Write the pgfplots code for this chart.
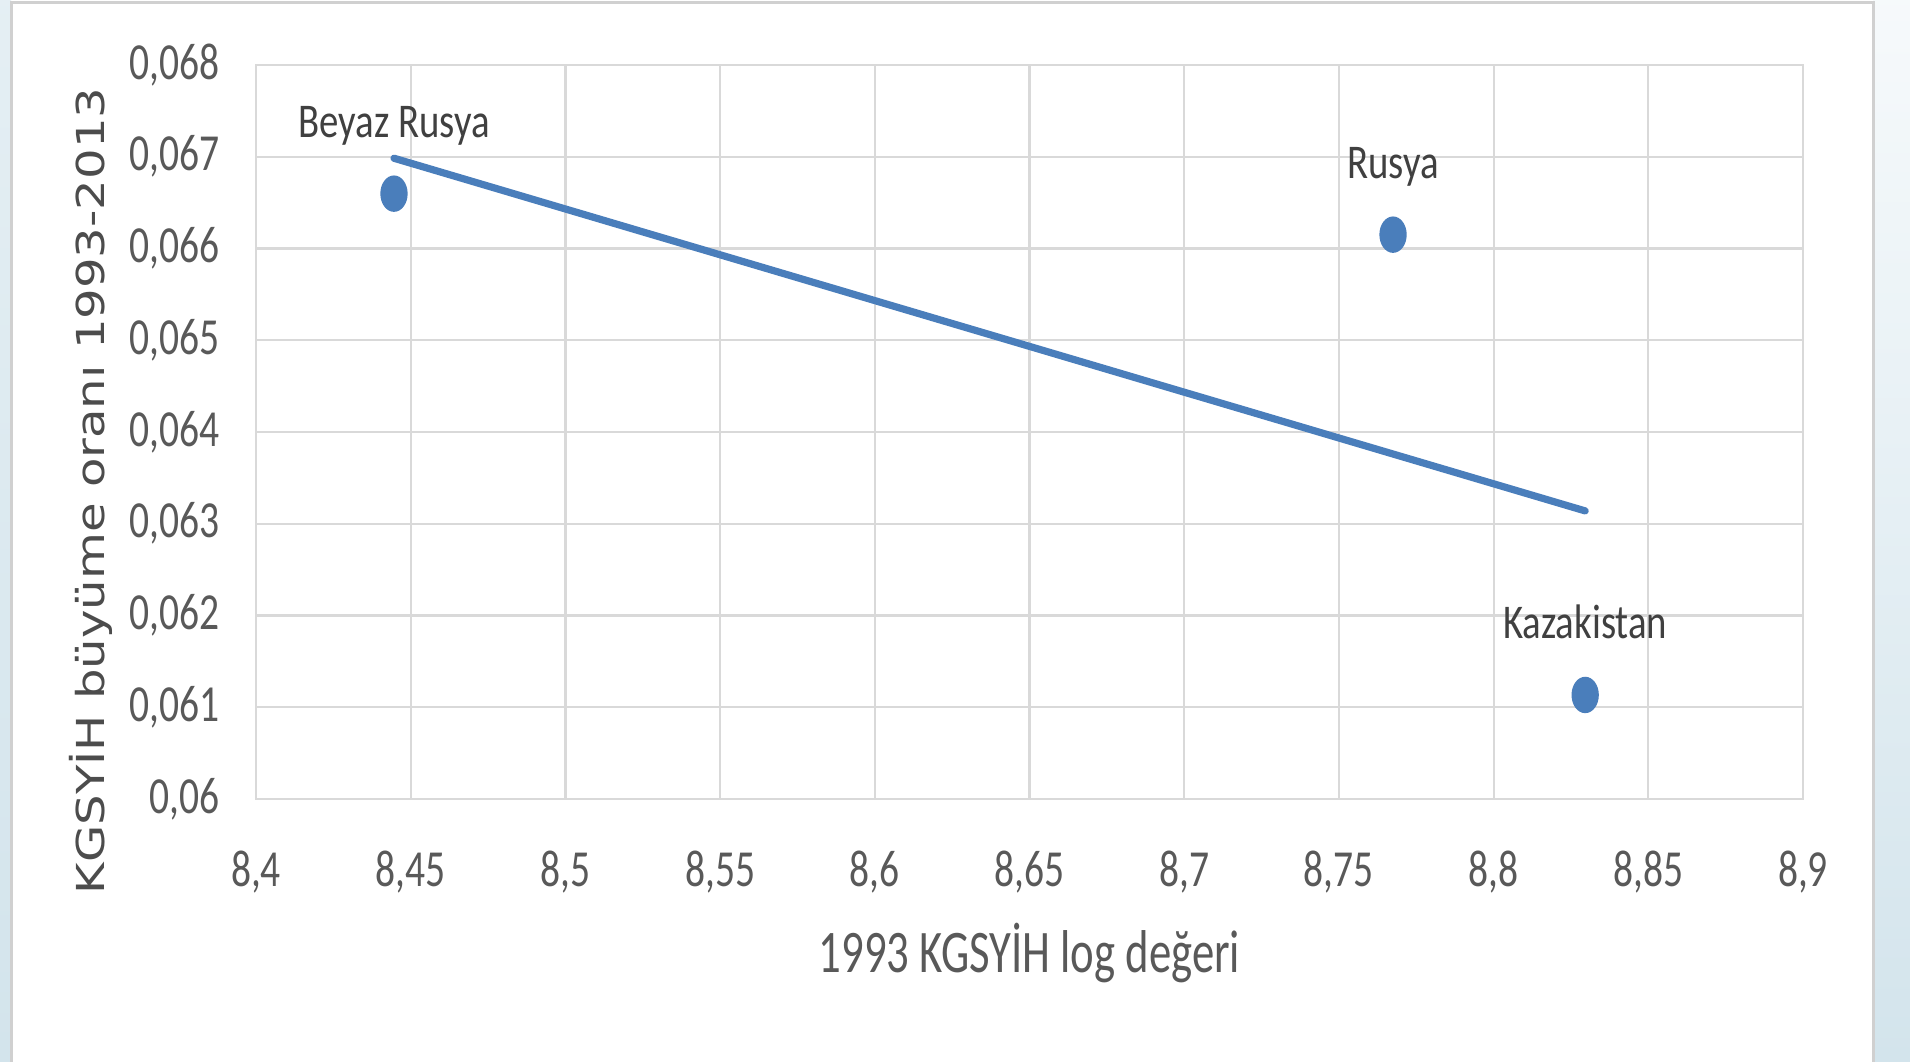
\documentclass[border=0pt]{standalone}
\usepackage{pgfplots}
\pgfplotsset{compat=1.18}
\usepackage{fontspec}
\setmainfont{Carlito}
\newfontfamily\labelfont{DejaVu Sans}
\usepackage{graphicx}
\definecolor{ptblue}{HTML}{4A7EBB}
\definecolor{tickgray}{HTML}{595959}
\definecolor{lblgray}{HTML}{404040}
\definecolor{gridgray}{HTML}{D9D9D9}
\definecolor{framegray}{HTML}{D0D0D0}
\definecolor{stripblue}{HTML}{D3E4EC}
\begin{document}
\begin{tikzpicture}
\path[use as bounding box] (0,0) rectangle (191mm,106.2mm);
\fill[white] (0,0) rectangle (191mm,106.2mm);
\shade[top color=white!40!stripblue, bottom color=stripblue] (0,0) rectangle (1.1mm,106.2mm);
\shade[top color=white!80!stripblue, bottom color=stripblue] (187.3mm,0) rectangle (191mm,106.2mm);
\draw[framegray, line width=0.3mm] (1.1mm,0) -- (1.1mm,105.9mm) -- (187.3mm,105.9mm) -- (187.3mm,0);
\begin{axis}[
  at={(25.6mm,26.3mm)}, anchor=south west,
  scale only axis, width=154.7mm, height=73.4mm,
  xmin=8.4, xmax=8.9, ymin=0.06, ymax=0.068,
  xtick={8.4,8.45,8.5,8.55,8.6,8.65,8.7,8.75,8.8,8.85,8.9},
  ytick={0.06,0.061,0.062,0.063,0.064,0.065,0.066,0.067,0.068},
  scaled x ticks=false, scaled y ticks=false,
  grid=major,
  major grid style={gridgray, line width=0.22mm},
  axis line style={gridgray, line width=0.22mm},
  tick style={draw=none},
  /pgf/number format/fixed,
  /pgf/number format/use comma,
  /pgf/number format/precision=3,
  /pgf/number format/1000 sep={},
  /pgf/number format/assume math mode=true,
  xticklabel={\scalebox{0.76}[1]{\pgfmathprintnumber{\tick}}},
  yticklabel={\scalebox{0.76}[1]{\pgfmathprintnumber{\tick}}},
  xticklabel style={font=\fontsize{14.8}{16}\selectfont, text=tickgray, anchor=north, inner sep=0pt, yshift=-5.1mm},
  yticklabel style={font=\fontsize{14.8}{16}\selectfont, text=tickgray, anchor=east, inner sep=0pt, xshift=-3.6mm},
  xlabel={\fontsize{17.2}{20}\selectfont\scalebox{0.74}[1]{1993 KGSYİH log değeri}},
  xlabel style={at={(axis description cs:0.5,-0.237)}, anchor=base, inner sep=0pt, text=tickgray},
  ylabel={\labelfont\fontsize{13.7}{16}\selectfont\scalebox{1}[0.8]{KGSYİH büyüme oranı 1993-2013}},
  ylabel style={at={(axis description cs:-0.1067,0.4196)}, anchor=center, inner sep=0pt, text=tickgray!85!black},
]
\addplot[ptblue, line width=0.72mm, line cap=round] coordinates {(8.4446,0.066984) (8.8296,0.063140)};
\addplot[only marks, mark=*, mark size=1.75mm,
  mark options={fill=ptblue, draw=ptblue, xscale=0.74},
  point meta=explicit symbolic,
  nodes near coords={\scalebox{0.8}[1]{\pgfplotspointmeta}},
  nodes near coords style={anchor=base, yshift=5.6mm, inner sep=0pt, font=\fontsize{13.8}{16}\selectfont, text=lblgray}]
  coordinates {(8.4446,0.066598)[Beyaz Rusya] (8.7675,0.066151)[Rusya] (8.8296,0.061134)[Kazakistan]};
\end{axis}
\end{tikzpicture}
\end{document}
